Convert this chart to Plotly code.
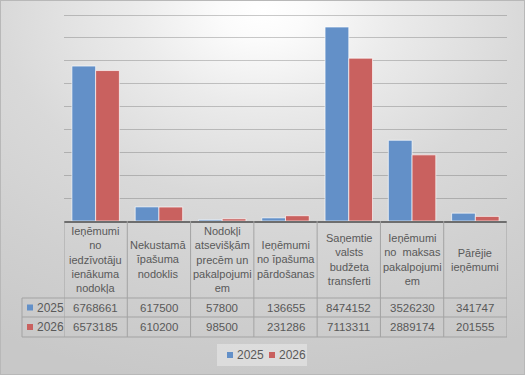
import base64
import plotly.graph_objects as go

categories = [
    "Ieņēmumi<br>no<br>iedzīvotāju<br>ienākuma<br>nodokļa",
    "Nekustamā<br>īpašuma<br>nodoklis",
    "Nodokļi<br>atsevišķām<br>precēm un<br>pakalpojumi<br>em",
    "Ieņēmumi<br>no īpašuma<br>pārdošanas",
    "Saņemtie<br>valsts<br>budžeta<br>transferti",
    "Ieņēmumi<br>no  maksas<br>pakalpojumi<br>em",
    "Pārējie<br>ieņēmumi",
]
series_names = ["2025", "2026"]
values_2025 = [6768661, 617500, 57800, 136655, 8474152, 3526230, 341747]
values_2026 = [6573185, 610200, 98500, 231286, 7113311, 2889174, 201555]
colors = ["#6390c8", "#c9615f"]

W, H = 525, 375
L, R, T, B = 64, 18, 13, 154
PW, PH = W - L - R, H - T - B
Y_MAX = 9.0e6 * PH / (PH - 2)  # keep the 9M gridline 2px below the top edge


def px(x):
    return (x - L) / PW


def py(y):
    return (H - B - y) / PH


svg = f'''<svg xmlns="http://www.w3.org/2000/svg" width="{W}" height="{H}" preserveAspectRatio="none">
<defs><radialGradient id="g" cx="50%" cy="3%" r="100%" gradientUnits="objectBoundingBox">
<stop offset="0" stop-color="#ffffff"/><stop offset="0.08" stop-color="#fbfbfb"/>
<stop offset="0.25" stop-color="#ebebeb"/><stop offset="0.5" stop-color="#d9d9d9"/>
<stop offset="0.75" stop-color="#d0d0d0"/><stop offset="1" stop-color="#c8c8c8"/></radialGradient></defs>
<rect width="{W}" height="{H}" fill="url(#g)"/>
<rect x="0.5" y="0.5" width="{W-1}" height="{H-1}" fill="none" stroke="#b8b8b8"/>
</svg>'''
src = "data:image/svg+xml;base64," + base64.b64encode(svg.encode()).decode()

font = "Liberation Sans"
tc = "#595959"

x_idx = list(range(len(categories)))
fig = go.Figure()
for name, vals, c in zip(series_names, [values_2025, values_2026], colors):
    fig.add_trace(go.Bar(x=x_idx, y=vals, name=name, marker_color=c,
                         marker_line=dict(color="rgba(255,255,255,0.65)", width=1),
                         showlegend=False))

shapes = []
line_col = "#a3a3a3"
for i in range(len(categories) + 1):
    shapes.append(dict(type="line", xref="x", yref="paper", x0=i - 0.5, x1=i - 0.5,
                       y0=py(221), y1=py(337), line=dict(color=line_col, width=1)))
shapes.append(dict(type="line", xref="paper", yref="paper", x0=px(22), x1=px(22),
                   y0=py(298), y1=py(337), line=dict(color=line_col, width=1)))
for yy in [298, 317, 337]:
    shapes.append(dict(type="line", xref="paper", yref="paper", x0=px(22), x1=1,
                       y0=py(yy), y1=py(yy), line=dict(color=line_col, width=1)))

row_y = [307.5, 327]
annotations = []
for name, c, ry in zip(series_names, colors, row_y):
    shapes.append(dict(type="rect", xref="paper", yref="paper", x0=px(27), x1=px(33),
                       y0=py(ry + 3), y1=py(ry - 3), fillcolor=c, line=dict(width=0)))
    annotations.append(dict(xref="paper", yref="paper", x=px(35), y=py(ry), text=name,
                            showarrow=False, xanchor="left", yanchor="middle",
                            font=dict(family=font, size=12, color=tc)))

for i, cat in enumerate(categories):
    annotations.append(dict(xref="x", yref="paper", x=i, y=py(259.5), text=cat,
                            showarrow=False, xanchor="center", yanchor="middle",
                            font=dict(family=font, size=11, color=tc)))
    for vals, ry in zip([values_2025, values_2026], row_y):
        annotations.append(dict(xref="x", yref="paper", x=i, y=py(ry), text=str(vals[i]),
                                showarrow=False, xanchor="center", yanchor="middle",
                                font=dict(family=font, size=11.5, color=tc)))

# legend (drawn manually to match the compact Excel legend)
shapes.append(dict(type="rect", xref="paper", yref="paper", x0=px(217), x1=px(307),
                   y0=py(344), y1=py(366), fillcolor="rgba(235,235,235,0.55)", line=dict(width=0)))
for name, c, lx in zip(series_names, colors, [227, 269]):
    shapes.append(dict(type="rect", xref="paper", yref="paper", x0=px(lx), x1=px(lx + 6),
                       y0=py(358), y1=py(352), fillcolor=c, line=dict(width=0)))
    annotations.append(dict(xref="paper", yref="paper", x=px(lx + 8), y=py(355), text=name,
                            showarrow=False, xanchor="left", yanchor="middle",
                            font=dict(family=font, size=12, color=tc)))

fig.update_layout(
    width=W, height=H,
    margin=dict(l=L, r=R, t=T, b=B, pad=0),
    paper_bgcolor="#d0d0d0",
    plot_bgcolor="rgba(0,0,0,0)",
    barmode="group", bargap=0.25, bargroupgap=0.0,
    images=[dict(source=src, xref="paper", yref="paper", x=px(0), y=py(0),
                 sizex=W / PW, sizey=H / PH, xanchor="left", yanchor="top",
                 sizing="stretch", layer="below")],
    xaxis=dict(range=[-0.5, 6.5], showticklabels=False, showgrid=False, zeroline=False,
               showline=True, linecolor="#6e6e6e", linewidth=1.5, ticks=""),
    yaxis=dict(range=[0, Y_MAX], dtick=1e6, showticklabels=False, showgrid=True,
               gridcolor="rgba(90,90,90,0.32)", gridwidth=1, zeroline=False, ticks=""),
    shapes=shapes,
    annotations=annotations,
    showlegend=False,
    font=dict(family=font, color=tc),
)

fig.write_html("out.html", config={"displayModeBar": False},
               post_script="document.body.style.margin='0';")
